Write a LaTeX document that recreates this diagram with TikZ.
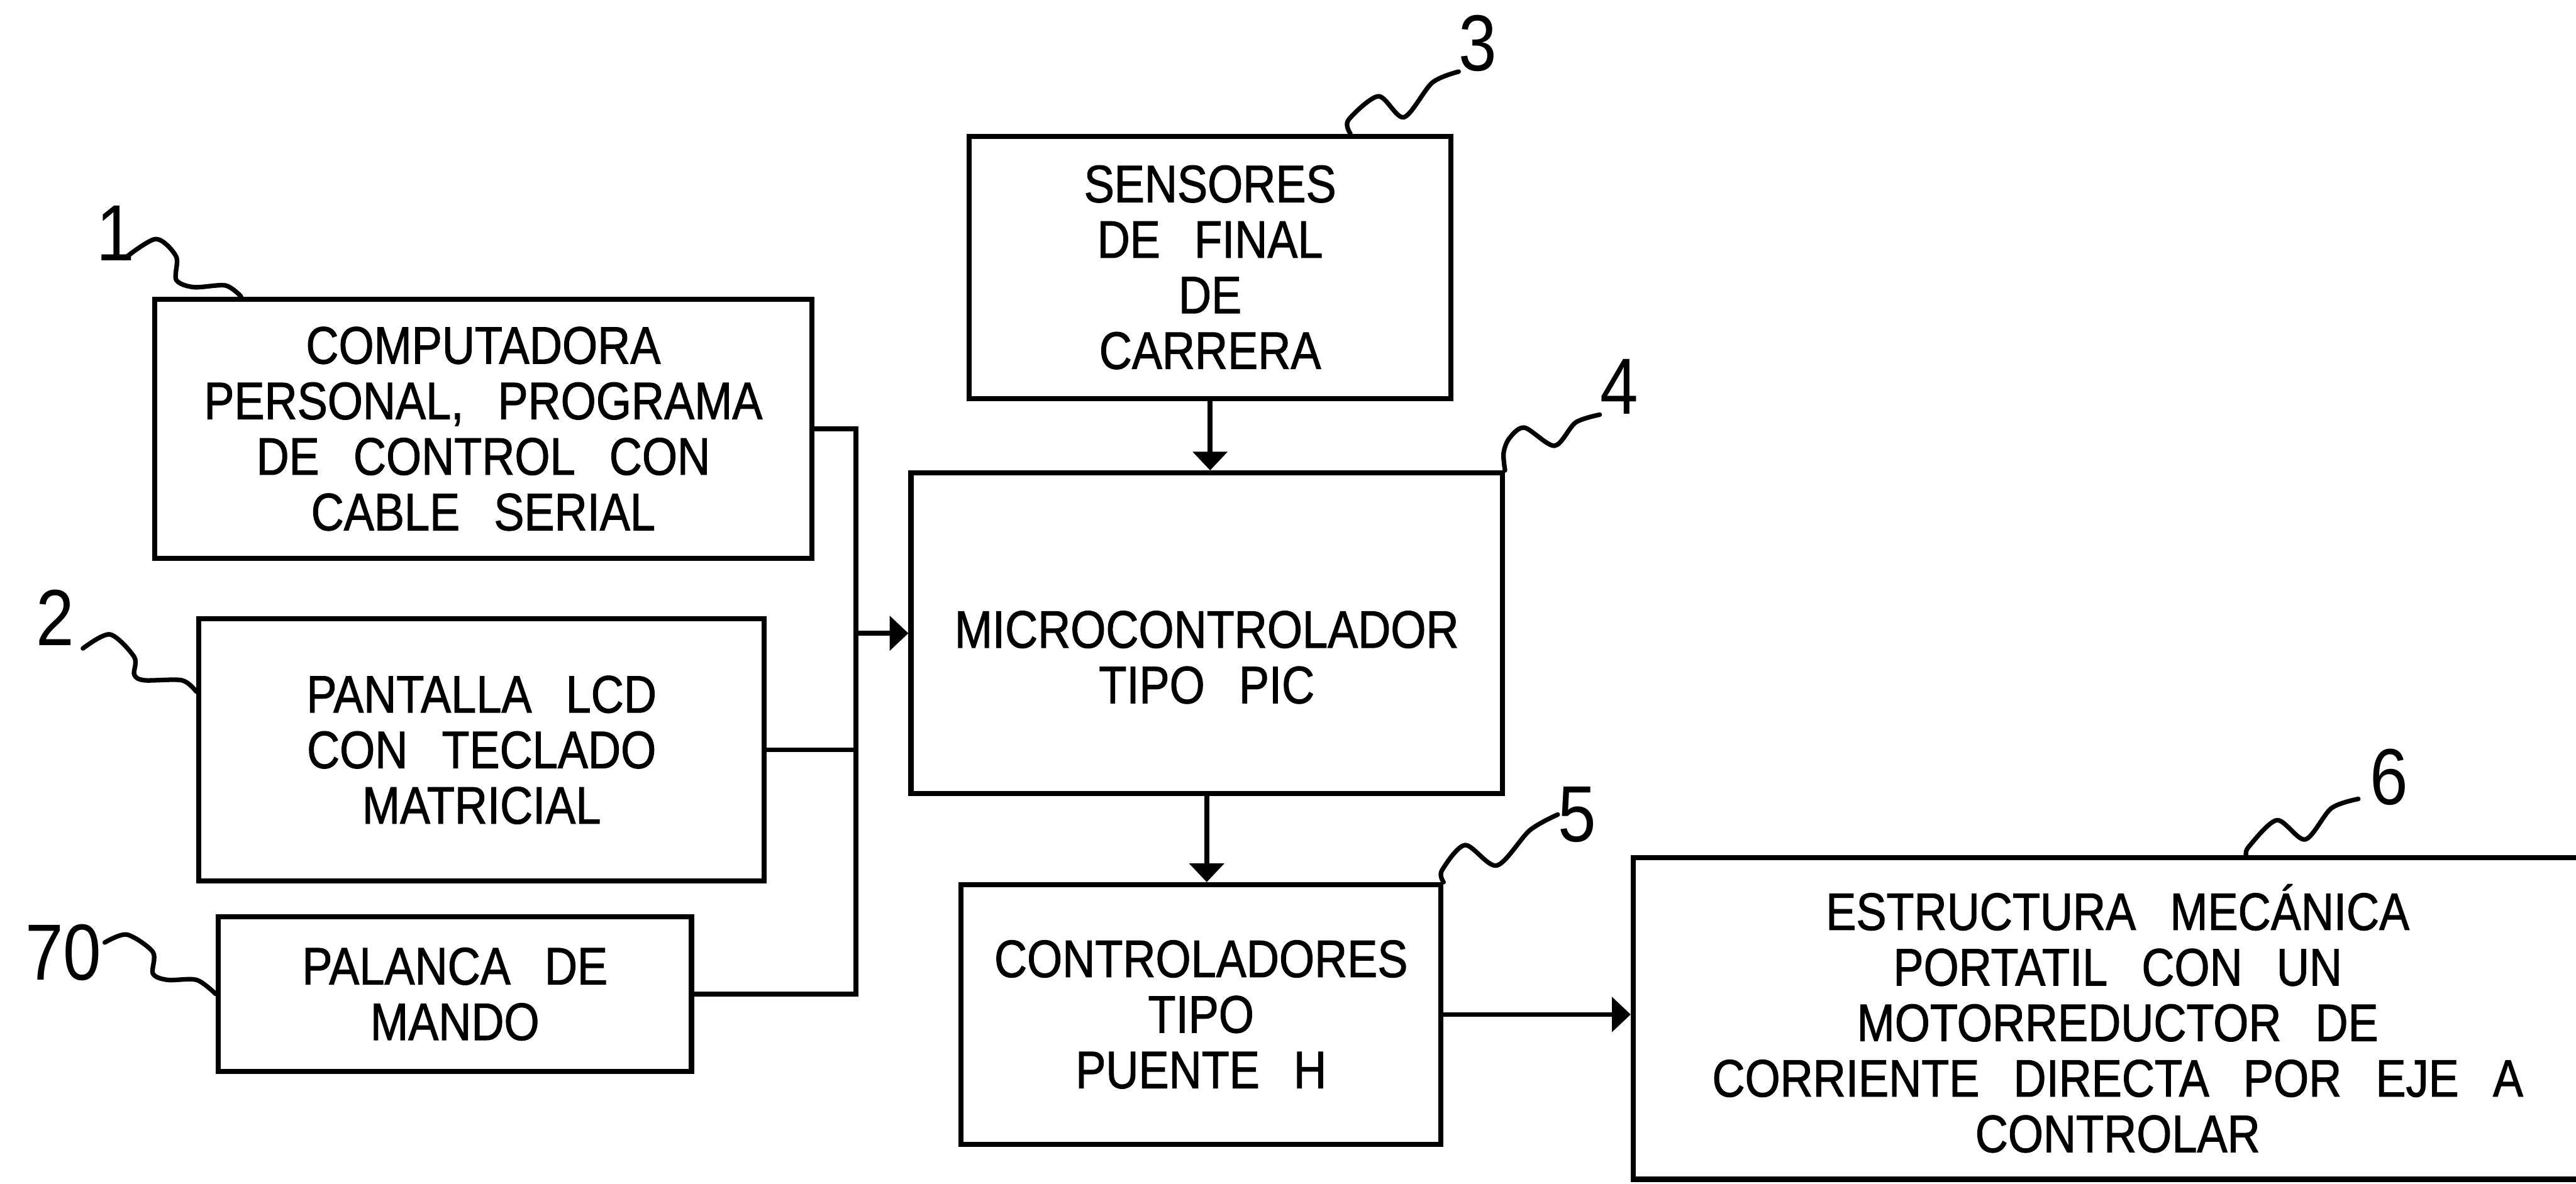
\documentclass[tikz,border=0pt]{standalone}
\usepackage{fontspec}
\setmainfont{Liberation Sans}[FakeStretch=0.86,WordSpace=2.6]
\newfontfamily\blockfont{Liberation Sans}[FakeStretch=0.86,WordSpace=2.7,FakeBold=1.2]
\usetikzlibrary{arrows.meta,calc}
\tikzset{
  >={Triangle[length=0.33cm,width=0.6cm]},
  block/.style={
    rectangle, draw, line width=2.6pt, align=center, inner sep=0pt,
    font=\blockfont\fontsize{26.5pt}{27.9pt}\selectfont
  },
  wire/.style={line width=2.4pt},
  arrow/.style={->, line width=2.4pt},
  leader/.style={line width=2.3pt, line cap=round, line join=round},
  refnum/.style={inner sep=0pt, font=\fontsize{40pt}{40pt}\selectfont}
}

\begin{document}
\begin{tikzpicture}
\useasboundingbox (0,0) rectangle (45.47,-20.90);
\clip (0,0) rectangle (45.47,-20.90);

% blocks
\node[block, minimum width=11.6cm, minimum height=4.58cm] (pc) at (8.53,-7.57)
  {COMPUTADORA\\PERSONAL, PROGRAMA\\DE CONTROL CON\\CABLE SERIAL};
\node[block, minimum width=9.98cm, minimum height=4.63cm] (lcd) at (8.50,-13.24)
  {PANTALLA LCD\\CON TECLADO\\MATRICIAL};
\node[block, minimum width=8.35cm, minimum height=2.73cm] (joy) at (8.03,-17.55)
  {PALANCA DE\\MANDO};
\node[block, minimum width=8.50cm, minimum height=4.63cm] (sens) at (21.36,-4.72)
  {SENSORES\\DE FINAL\\DE\\CARRERA};
\node[block, minimum width=10.44cm, minimum height=5.66cm] (pic) at (21.30,-11.18)
  {\rule{0pt}{1.5cm}MICROCONTROLADOR\\TIPO PIC};
\node[block, minimum width=8.47cm, minimum height=4.58cm] (hbridge) at (21.20,-17.91)
  {CONTROLADORES\\TIPO\\PUENTE H};
\node[block, minimum width=17.10cm, minimum height=5.68cm] (mech) at (37.38,-17.98)
  {ESTRUCTURA MECÁNICA\\PORTATIL CON UN\\MOTORREDUCTOR DE\\CORRIENTE DIRECTA POR EJE A\\CONTROLAR};

% reference numbers
\node[refnum] (t1) at (2.04,-4.12) {1};
\node[refnum] (t2) at (0.97,-10.90) {2};
\node[refnum] (t70) at (1.12,-16.82) {70};
\node[refnum] (t3) at (26.09,-0.76) {3};
\node[refnum] (t4) at (28.58,-6.83) {4};
\node[refnum] (t5) at (27.84,-14.38) {5};
\node[refnum] (t6) at (42.17,-13.72) {6};

% input bus
\coordinate (bus) at (15.11,-11.18);
\draw[wire] (pc.east) -| (bus) |- (joy.east);
\draw[wire] (lcd.east) -- (lcd.east -| bus);
\draw[arrow] (bus) -- (pic.west);
\draw[arrow] (sens.south) -- (sens.south |- pic.north);
\draw[arrow] (pic.south) -- (pic.south |- hbridge.north);
\draw[arrow] (hbridge.east) -- (hbridge.east -| mech.west);

% leaders
\draw[leader] plot[smooth] coordinates {($(t1.south)+(0.16,0.05)$) (2.75,-4.22) (3.11,-4.53)
  (3.11,-4.94) (3.42,-5.07) (3.98,-5.04) ($(pc.north west)+(1.57,0)$)};
\draw[leader] plot[smooth] coordinates {($(t2.south east)+(0.15,-0.05)$) (1.94,-11.20) (2.37,-11.60)
  (2.37,-11.91) (2.55,-12.01) (3.21,-12.01) ($(lcd.north west)+(0,-1.33)$)};
\draw[leader] plot[smooth] coordinates {($(t70.east)+(0.05,0.18)$) (2.24,-16.50) (2.70,-16.81)
  (2.70,-17.19) (2.96,-17.30) (3.47,-17.30) (joy.west)};
\draw[leader] plot[smooth] coordinates {($(sens.north east)+(-1.82,0)$) (23.80,-2.12) (24.33,-1.70)
  (24.78,-2.07) (25.28,-1.46) (t3.south west)};
\draw[leader] plot[smooth] coordinates {(pic.north east) (26.54,-8.00) (26.64,-7.74)
  (26.91,-7.55) (27.44,-7.87) (27.81,-7.46) (t4.south west)};
\draw[leader] plot[smooth] coordinates {(hbridge.north east) (25.45,-15.37) (25.86,-14.92)
  (26.42,-15.28) (27.00,-14.66) (t5.west)};
\draw[leader] plot[smooth] coordinates {($(mech.north west)+(10.86,0)$) (39.70,-14.94) (40.19,-14.48)
  (40.69,-14.82) (41.15,-14.27) ($(t6.south west)+(-0.2,0.12)$)};
\end{tikzpicture}
\end{document}
